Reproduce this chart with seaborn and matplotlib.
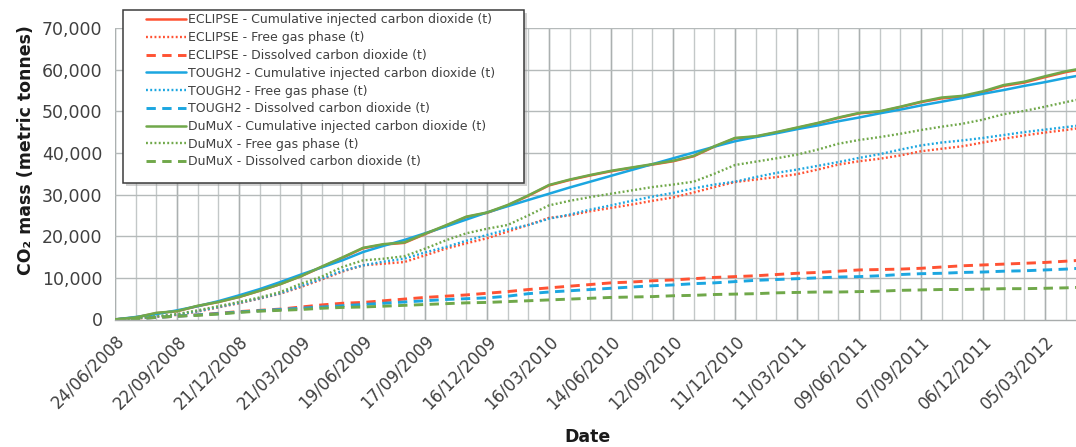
import matplotlib
matplotlib.use("Agg")
import matplotlib.pyplot as plt
import matplotlib.dates as mdates
from matplotlib.patches import Rectangle
from matplotlib.ticker import FixedLocator, FuncFormatter
import numpy as np
import pandas as pd
import seaborn as sns

# ---------------------------------------------------------------- data
# Simulated CO2 inventory, sampled every 30 days from the start of injection
dates = pd.date_range("2008-06-24", periods=48, freq="30D")

eclipse_cumulative = [
    0, 500, 1500, 2000, 3200, 4200, 5400, 6900, 8500, 10400, 12600, 14800,
    17100, 18000, 18400, 20500, 22500, 24600, 25600, 27400, 29700, 32200,
    33500, 34600, 35600, 36400, 37200, 38000, 39200, 41500, 43500, 43900,
    44900, 46000, 47100, 48400, 49500, 49900, 51000, 52200, 53100, 53500,
    54600, 56100, 56900, 58200, 59400, 60300]
eclipse_free_gas = [
    0, 200, 600, 1100, 1900, 2900, 3900, 5000, 6200, 7800, 9600, 11500,
    13000, 13400, 13800, 15400, 17000, 18300, 19500, 21100, 22700, 24400,
    25000, 26000, 26800, 27600, 28500, 29300, 30500, 31800, 33000, 33600,
    34200, 34900, 36000, 37200, 38000, 38600, 39400, 40400, 41000, 41600,
    42500, 43400, 44200, 44900, 45500, 46200]
eclipse_dissolved = [
    0, 200, 500, 800, 1100, 1500, 1900, 2200, 2500, 3000, 3500, 3900,
    4100, 4500, 4900, 5300, 5600, 5900, 6300, 6700, 7200, 7600,
    8000, 8400, 8800, 9000, 9300, 9500, 9800, 10100, 10300, 10500,
    10800, 11100, 11300, 11600, 11900, 12000, 12100, 12300, 12600, 12900,
    13100, 13300, 13500, 13700, 14000, 14300]

tough2_cumulative = [
    0, 600, 1300, 2200, 3200, 4400, 5800, 7300, 9000, 10800, 12500, 14200,
    16200, 17700, 19100, 20700, 22300, 24000, 25700, 27200, 28700, 30200,
    31700, 33100, 34500, 35900, 37300, 38700, 40100, 41500, 42800, 43800,
    44700, 45700, 46600, 47600, 48500, 49500, 50400, 51400, 52300, 53200,
    54200, 55100, 56100, 57000, 58000, 58900]
tough2_free_gas = [
    0, 300, 700, 1200, 2000, 3000, 4000, 5100, 6300, 8000, 9800, 11700,
    13000, 13900, 14600, 16100, 17400, 18900, 20300, 21600, 22700, 24200,
    25200, 26400, 27400, 28500, 29500, 30400, 31500, 32400, 33100, 34200,
    35200, 36000, 36900, 37800, 38800, 39700, 40800, 41800, 42500, 43000,
    43600, 44300, 45000, 45600, 46200, 46800]
tough2_dissolved = [
    0, 200, 500, 800, 1100, 1400, 1800, 2100, 2400, 2700, 3000, 3300,
    3600, 3900, 4200, 4500, 4800, 5000, 5200, 5600, 6200, 6600,
    6900, 7200, 7500, 7800, 8100, 8300, 8600, 8800, 9100, 9400,
    9600, 9800, 10000, 10200, 10300, 10500, 10800, 11000, 11100, 11300,
    11400, 11600, 11700, 11900, 12100, 12400]

dumux_cumulative = [
    0, 500, 1600, 2000, 3300, 4200, 5400, 6900, 8500, 10400, 12700, 14900,
    17200, 18100, 18500, 20600, 22600, 24700, 25700, 27500, 29800, 32300,
    33600, 34700, 35700, 36500, 37300, 38100, 39300, 41600, 43600, 44000,
    45000, 46100, 47200, 48500, 49600, 50000, 51100, 52300, 53300, 53700,
    54800, 56300, 57100, 58400, 59600, 60500]
dumux_free_gas = [
    0, 300, 800, 1300, 2200, 3200, 4200, 5300, 6600, 8600, 10300, 12600,
    14200, 14600, 15200, 17000, 19000, 20700, 21800, 22700, 25000, 27400,
    28500, 29400, 30200, 31000, 31800, 32400, 33100, 35000, 37100, 37900,
    38700, 39600, 40800, 42200, 43100, 43800, 44600, 45500, 46300, 47000,
    48000, 49300, 50100, 51100, 52200, 53200]
dumux_dissolved = [
    0, 200, 500, 800, 1000, 1300, 1700, 2000, 2200, 2400, 2700, 2900,
    3000, 3200, 3400, 3600, 3800, 4000, 4100, 4300, 4500, 4700,
    4900, 5100, 5300, 5400, 5500, 5700, 5800, 6000, 6100, 6200,
    6400, 6500, 6600, 6600, 6700, 6800, 7000, 7100, 7200, 7200,
    7300, 7400, 7400, 7500, 7600, 7800]

models = ["ECLIPSE", "TOUGH2", "DuMuX"]
quantities = ["Cumulative injected carbon dioxide (t)",
              "Free gas phase (t)",
              "Dissolved carbon dioxide (t)"]
series = {
    ("ECLIPSE", quantities[0]): eclipse_cumulative,
    ("ECLIPSE", quantities[1]): eclipse_free_gas,
    ("ECLIPSE", quantities[2]): eclipse_dissolved,
    ("TOUGH2", quantities[0]): tough2_cumulative,
    ("TOUGH2", quantities[1]): tough2_free_gas,
    ("TOUGH2", quantities[2]): tough2_dissolved,
    ("DuMuX", quantities[0]): dumux_cumulative,
    ("DuMuX", quantities[1]): dumux_free_gas,
    ("DuMuX", quantities[2]): dumux_dissolved,
}

tick_dates = pd.date_range("2008-06-24", periods=16, freq="90D")
minor_dates = pd.date_range("2008-06-24", periods=48, freq="30D")
y_ticks = [0, 10000, 20000, 30000, 40000, 50000, 60000, 70000]

rows = []
for (model, qty), vals in series.items():
    for d, v in zip(dates, vals):
        rows.append({"date": d, "mass": v, "model": model, "quantity": qty})
df = pd.DataFrame(rows)

# ---------------------------------------------------------------- style
sns.set_style("white")
plt.rcParams["font.family"] = ["DejaVu Sans"]

colors = {"ECLIPSE": "#FF5233", "TOUGH2": "#1BA6E0", "DuMuX": "#70A84A"}
line_styles = {
    quantities[0]: dict(linestyle="-", linewidth=1.8),
    quantities[1]: dict(linestyle=(0, (0.8, 1.0)), linewidth=1.7),
    quantities[2]: dict(linestyle=(0, (3.2, 2.2)), linewidth=2.1),
}

W, H = 1076, 447
fig = plt.figure(figsize=(W / 100, H / 100), dpi=100)
ax_left, ax_right, ax_top, ax_bottom = 115, 1076, 28, 319.5
ax = fig.add_axes([ax_left / W, 1 - ax_bottom / H,
                   (ax_right - ax_left) / W, (ax_bottom - ax_top) / H])

x_start = mdates.date2num(tick_dates[0])
x_end = x_start + 1395

# gridlines: horizontal every 10,000 t, vertical every 30 days
# (quarterly lines slightly darker)
for d in mdates.date2num(minor_dates):
    if x_start <= d <= x_end:
        ax.axvline(d, color="#C3C8C8", linewidth=1.0, zorder=0.5)
for d in mdates.date2num(tick_dates):
    ax.axvline(d, color="#ABB0B0", linewidth=1.0, zorder=0.6)
for v in y_ticks[1:]:
    ax.axhline(v, color="#B5BABA", linewidth=1.0, zorder=0.6)

for model in models:
    for qty in quantities:
        sub = df[(df["model"] == model) & (df["quantity"] == qty)]
        sns.lineplot(data=sub, x="date", y="mass", ax=ax,
                     color=colors[model], label=f"{model} - {qty}",
                     dash_capstyle="butt", zorder=2, **line_styles[qty])

handles, labels = ax.get_legend_handles_labels()
if ax.get_legend() is not None:
    ax.get_legend().remove()

# axes range
ax.set_xlim(x_start, x_end)
ax.set_ylim(0, 70000)

ax.xaxis.set_major_locator(FixedLocator(mdates.date2num(tick_dates)))
ax.xaxis.set_major_formatter(mdates.DateFormatter("%d/%m/%Y"))
ax.set_yticks(y_ticks)
ax.yaxis.set_major_formatter(FuncFormatter(lambda v, p: f"{v:,.0f}"))
ax.grid(False)

for side in ["top", "right", "left"]:
    ax.spines[side].set_visible(False)
ax.spines["bottom"].set_color("#A8ACAC")
ax.spines["bottom"].set_linewidth(1.0)

ax.tick_params(axis="x", which="major", direction="out", length=5,
               width=1, color="#A8ACAC", pad=4, labelsize=12,
               labelcolor="#404040")
ax.tick_params(axis="y", length=0, pad=9, labelsize=12.5, labelcolor="#404040")
for lbl in ax.get_xticklabels():
    lbl.set_rotation(45)
    lbl.set_ha("right")
    lbl.set_va("top")
    lbl.set_rotation_mode("anchor")

ax.set_xlabel("")
ax.set_ylabel("")
fig.text(26 / W, 1 - 150 / H, "CO₂ mass (metric tonnes)", rotation=90,
         ha="center", va="center", fontsize=12.5, fontweight="bold",
         color="#1A1A1A")
fig.text(588 / W, 1 - 437 / H, "Date", ha="center", va="center",
         fontsize=12.5, fontweight="bold", color="#1A1A1A")

# legend box with a soft drop shadow
lx0, ly0, lx1, ly1 = 123, 10, 524, 183
fig.patches.append(Rectangle(((lx0 + 3) / W, 1 - (ly1 + 3) / H),
                             (lx1 - lx0) / W, (ly1 - ly0) / H,
                             transform=fig.transFigure, facecolor="#9A9A9A",
                             alpha=0.45, edgecolor="none", zorder=2))
fig.patches.append(Rectangle((lx0 / W, 1 - ly1 / H),
                             (lx1 - lx0) / W, (ly1 - ly0) / H,
                             transform=fig.transFigure, facecolor="white",
                             edgecolor="#3C3C3C", linewidth=1.1, zorder=3))
leg = fig.legend(handles, labels, loc="upper left",
                 bbox_to_anchor=(146 / W, 1 - 13.5 / H),
                 frameon=False, borderpad=0, borderaxespad=0,
                 fontsize=9, handlelength=3.2, handletextpad=0.2,
                 labelspacing=0.38, labelcolor="#404040")
leg.set_zorder(4)

fig.savefig("out.png", dpi=100)
